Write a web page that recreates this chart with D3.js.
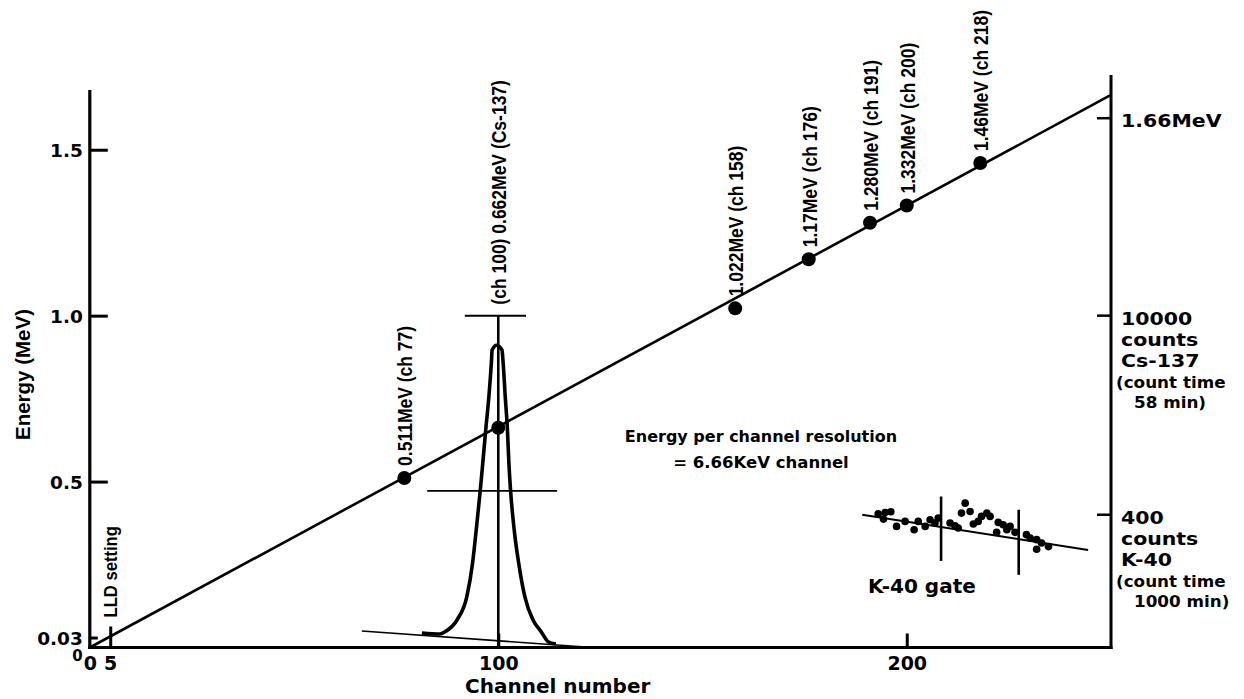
<!DOCTYPE html>
<html>
<head>
<meta charset="utf-8">
<script src="https://cdn.jsdelivr.net/npm/d3@7"></script>
<style>
  html, body { margin: 0; padding: 0; background: #fff; }
  svg { display: block; }
</style>
</head>
<body>
<svg id="chart" width="1244" height="699"></svg>
<script>
// ---------- Calibration points (channel, energy in MeV) ----------
const calibChannels = [77, 100, 158, 176, 191, 200, 218];
const calibEnergies = [0.511, 0.662, 1.022, 1.17, 1.280, 1.332, 1.46];
const calibLabels = [
  "0.511MeV (ch 77)", "(ch 100) 0.662MeV (Cs-137)", "1.022MeV (ch 158)",
  "1.17MeV (ch 176)", "1.280MeV (ch 191)", "1.332MeV (ch 200)", "1.46MeV (ch 218)"
];

// Calibration line, 6.66 keV per channel
const lineChannels = [0, 250];
const lineEnergies = [0, 1.665];

// ---------- Cs-137 photopeak (counts per channel) ----------
const csChannels = [81.3, 85.7, 87.0, 89.9, 92.3, 93.7, 94.6, 95.6, 96.2, 97.0, 97.7, 98.3, 98.5, 99.6,
                    100.9, 101.2, 101.7, 102.2, 102.6, 103.0, 103.9, 105.0, 106.5, 108.5, 110.5, 112.2, 114.1];
const csCounts = [437, 407, 477, 829, 1531, 2537, 3541, 4747, 5552, 6655, 7559, 8565, 8966, 9108,
                  8966, 8565, 7559, 6655, 5552, 4747, 3541, 2537, 1531, 829, 477, 175, 105];
const csBackgroundChannels = [66.6, 123];
const csBackgroundCounts = [497, 0];
const csPeakChannel = 100;
const csFullScaleCounts = 10000;
const csFullScaleSpan = [91.8, 106.8];
const csHalfMaxCounts = 4720;
const csHalfMaxSpan = [82.6, 114.4];

// ---------- K-40 region (counts per channel) ----------
const k40Channels = [193.0, 194.7, 196.1, 194.3, 197.5, 199.6, 201.8, 202.8, 204.5, 205.7, 206.9, 207.7,
                     210.6, 211.8, 212.6, 213.4, 214.3, 215.5, 216.3, 217.5, 218.3, 219.6, 220.4, 222.4,
                     222.0, 223.6, 224.5, 225.3, 226.5, 229.3, 230.2, 231.8, 231.8, 233.0, 234.7];
const k40Counts = [403, 407, 409, 387, 365, 380, 355, 380, 365, 385, 375, 390,
                   375, 367, 360, 405, 435, 410, 372, 380, 395, 405, 395, 377,
                   347, 370, 355, 365, 347, 340, 330, 325, 296, 315, 304];
const k40BackgroundChannels = [189.1, 244.4];
const k40BackgroundCounts = [400, 294];
const k40GateChannels = [208.4, 227.4];
const k40GateTops = [455, 415];
const k40GateBottoms = [261, 219];

// ---------- Axis ticks ----------
const yTickValues = [0, 0.03, 0.5, 1.0, 1.5];
const yTickLabels = ["0", "0.03", "0.5", "1.0", "1.5"];
const xTickValues = [0, 5, 100, 200];
const xTickLabels = ["0", "5", "100", "200"];
const lldChannel = 5;

// Right-hand annotations: energy marker, Cs-137 and K-40 count scales
const rightEnergyMark = 1.595;
const rightLabelGroups = [
  ["1.66MeV"],
  ["10000", "counts", "Cs-137", "(count time", "58 min)"],
  ["400", "counts", "K-40", "(count time", "1000 min)"]
];

// ---------- Setup ----------
const svg = d3.select("#chart");
const WIDE = "'DejaVu Sans', Verdana, sans-serif";
const NARROW = "'Liberation Sans', Arial, Helvetica, sans-serif";

const x = d3.scaleLinear().domain([0, 250]).range([89.8, 1111]);
const yE = d3.scaleLinear().domain([0, 1.68]).range([647.5, 90]);
const yCs = d3.scaleLinear().domain([0, 10000]).range([yE(0), yE(1.0)]);
const yK = d3.scaleLinear().domain([0, 400]).range([yE(0), yE(0.4)]);

const ink = "#000";

// ---------- Axes ----------
const gL = svg.append("g")
  .attr("transform", `translate(${x(0)},0)`)
  .call(d3.axisLeft(yE).tickValues(yTickValues)
    .tickFormat((d, i) => yTickLabels[i])
    .tickSize(-18).tickSizeOuter(0).tickPadding(7));
gL.select(".domain").remove();
gL.selectAll(".tick line").attr("stroke", ink).attr("stroke-width", 3)
  .attr("x2", d => d === 0 ? 0 : (d < 0.1 ? 8 : 18));
gL.selectAll(".tick text")
  .attr("fill", ink).attr("font-family", WIDE).attr("font-weight", "bold")
  .attr("font-size", d => d === 0 ? 15 : 18.5)
  .attr("dy", d => d === 0 ? "0.85em" : "0.36em");

const gB = svg.append("g")
  .attr("transform", `translate(0,${yE(0)})`)
  .call(d3.axisBottom(x).tickValues(xTickValues)
    .tickFormat((d, i) => xTickLabels[i])
    .tickSize(-14).tickSizeOuter(0).tickPadding(9));
gB.select(".domain").remove();
gB.selectAll(".tick line").attr("stroke", ink).attr("stroke-width", 3)
  .attr("y2", d => d === 0 ? 0 : (d === lldChannel ? -21 : -14));
gB.selectAll(".tick text")
  .attr("fill", ink).attr("font-family", WIDE).attr("font-weight", "bold")
  .attr("font-size", 19);

// axis lines
svg.append("line").attr("x1", x(0)).attr("x2", x(0))
  .attr("y1", yE(0) + 1.5).attr("y2", yE(1.68))
  .attr("stroke", ink).attr("stroke-width", 3.2);
svg.append("line").attr("x1", x(0) - 1.5).attr("x2", x(250) + 1.5)
  .attr("y1", yE(0)).attr("y2", yE(0))
  .attr("stroke", ink).attr("stroke-width", 3);
svg.append("line").attr("x1", x(250)).attr("x2", x(250))
  .attr("y1", yE(0) + 1.5).attr("y2", yE(1.725))
  .attr("stroke", ink).attr("stroke-width", 3);

// right-hand ticks and labels
const rightTickY = [yE(rightEnergyMark), yCs(csFullScaleCounts), yK(400)];
const lineOffsets = [9, 30, 51, 72, 92];
const lineIndent = [10, 10, 10, 5, 23];
const lineSize = [17.5, 17.5, 17.5, 15, 15];
const lineStretch = [1.17, 1.17, 1.17, 1.12, 1.12];
rightLabelGroups.forEach((lines, gi) => {
  const ty = rightTickY[gi];
  svg.append("line").attr("x1", x(250) - 14).attr("x2", x(250))
    .attr("y1", ty).attr("y2", ty).attr("stroke", ink).attr("stroke-width", 2.5);
  lines.forEach((t, li) => {
    svg.append("text")
      .attr("transform", `translate(${x(250) + lineIndent[li]},${ty + lineOffsets[li]}) scale(${lineStretch[li]},1)`)
      .attr("font-family", WIDE).attr("font-weight", "bold")
      .attr("font-size", lineSize[li]).attr("fill", ink)
      .text(t);
  });
});

// axis titles
svg.append("text")
  .attr("transform", `translate(30,440) rotate(-90)`)
  .attr("font-family", NARROW).attr("font-weight", "bold").attr("font-size", 20.5)
  .attr("fill", ink).text("Energy (MeV)");
svg.append("text")
  .attr("x", 465).attr("y", 693)
  .attr("font-family", WIDE).attr("font-weight", "bold").attr("font-size", 20)
  .attr("fill", ink).text("Channel number");

// LLD marker label
svg.append("text")
  .attr("transform", `translate(${x(lldChannel) + 7},${yE(0) - 30}) rotate(-90) scale(0.875,1)`)
  .attr("font-family", NARROW).attr("font-weight", "bold").attr("font-size", 19)
  .attr("fill", ink).text("LLD setting");

// ---------- Cs-137 peak ----------
svg.append("path")
  .datum(csBackgroundChannels.map((c, i) => [c, csBackgroundCounts[i]]))
  .attr("d", d3.line().x(d => x(d[0])).y(d => yCs(d[1])))
  .attr("fill", "none").attr("stroke", ink).attr("stroke-width", 1.6);

svg.append("path")
  .datum(csChannels.map((c, i) => [c, csCounts[i]]))
  .attr("d", d3.line().x(d => x(d[0])).y(d => yCs(d[1])).curve(d3.curveMonotoneX))
  .attr("fill", "none").attr("stroke", ink).attr("stroke-width", 3.6)
  .attr("stroke-linejoin", "round");

svg.append("line")
  .attr("x1", x(csPeakChannel)).attr("x2", x(csPeakChannel))
  .attr("y1", yCs(csFullScaleCounts)).attr("y2", yCs(0))
  .attr("stroke", ink).attr("stroke-width", 2.6);
svg.append("line")
  .attr("x1", x(csFullScaleSpan[0])).attr("x2", x(csFullScaleSpan[1]))
  .attr("y1", yCs(csFullScaleCounts)).attr("y2", yCs(csFullScaleCounts))
  .attr("stroke", ink).attr("stroke-width", 2);
svg.append("line")
  .attr("x1", x(csHalfMaxSpan[0])).attr("x2", x(csHalfMaxSpan[1]))
  .attr("y1", yCs(csHalfMaxCounts)).attr("y2", yCs(csHalfMaxCounts))
  .attr("stroke", ink).attr("stroke-width", 1.6);

// ---------- Calibration line and points ----------
svg.append("path")
  .datum(lineChannels.map((c, i) => [c, lineEnergies[i]]))
  .attr("d", d3.line().x(d => x(d[0])).y(d => yE(d[1])))
  .attr("fill", "none").attr("stroke", ink).attr("stroke-width", 2.6);

const calibData = calibChannels.map((c, i) => ({ c, e: calibEnergies[i], label: calibLabels[i] }));

svg.selectAll(".calib-dot")
  .data(calibData)
  .join("circle")
  .attr("class", "calib-dot")
  .attr("cx", d => x(d.c)).attr("cy", d => yE(d.e)).attr("r", 7)
  .attr("fill", ink);

svg.selectAll(".calib-label")
  .data(calibData)
  .join("text")
  .attr("class", "calib-label")
  .attr("transform", d => {
    const ay = d.c === csPeakChannel ? yCs(csFullScaleCounts) - 11 : yE(d.e) - 12;
    return `translate(${x(d.c) + 8},${ay}) rotate(-90) scale(0.875,1)`;
  })
  .attr("font-family", NARROW).attr("font-weight", "bold").attr("font-size", 20)
  .attr("fill", ink)
  .text(d => d.label);

// ---------- K-40 region ----------
svg.append("path")
  .datum(k40BackgroundChannels.map((c, i) => [c, k40BackgroundCounts[i]]))
  .attr("d", d3.line().x(d => x(d[0])).y(d => yK(d[1])))
  .attr("fill", "none").attr("stroke", ink).attr("stroke-width", 2);

svg.selectAll(".k40-gate")
  .data(k40GateChannels.map((c, i) => ({ c, top: k40GateTops[i], bottom: k40GateBottoms[i] })))
  .join("line")
  .attr("class", "k40-gate")
  .attr("x1", d => x(d.c)).attr("x2", d => x(d.c))
  .attr("y1", d => yK(d.top)).attr("y2", d => yK(d.bottom))
  .attr("stroke", ink).attr("stroke-width", 2.6);

svg.selectAll(".k40-dot")
  .data(k40Channels.map((c, i) => [c, k40Counts[i]]))
  .join("circle")
  .attr("class", "k40-dot")
  .attr("cx", d => x(d[0])).attr("cy", d => yK(d[1])).attr("r", 3.8)
  .attr("fill", ink);

// ---------- Annotations ----------
svg.append("text")
  .attr("x", 761).attr("y", 442).attr("text-anchor", "middle")
  .attr("font-family", WIDE).attr("font-weight", "bold").attr("font-size", 16)
  .attr("fill", ink).text("Energy per channel resolution");
svg.append("text")
  .attr("x", 761).attr("y", 468).attr("text-anchor", "middle")
  .attr("font-family", WIDE).attr("font-weight", "bold").attr("font-size", 16.5)
  .attr("fill", ink).text("= 6.66KeV channel");
svg.append("text")
  .attr("x", 868).attr("y", 593)
  .attr("font-family", WIDE).attr("font-weight", "bold").attr("font-size", 20)
  .attr("fill", ink).text("K-40 gate");
</script>
</body>
</html>
